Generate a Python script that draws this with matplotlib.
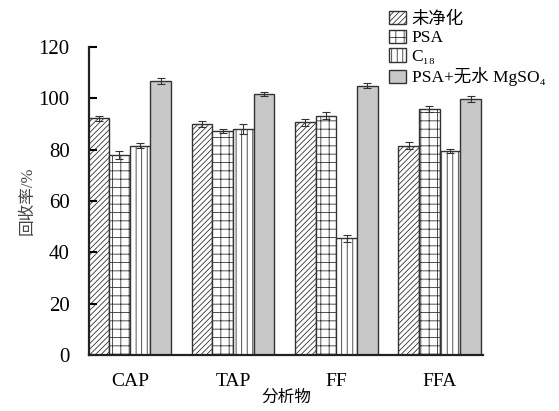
import numpy as np
import matplotlib.pyplot as plt

plt.rcParams['font.family'] = ['Liberation Serif', 'Noto Sans CJK SC', 'DejaVu Sans']
plt.rcParams['hatch.linewidth'] = 0.6

analytes = ['CAP', 'TAP', 'FF', 'FFA']
methods = ['未净化', 'PSA', 'C\u2081\u2088', 'PSA+无水 MgSO\u2084']

raw = [92.3, 90.0, 90.6, 81.6]
psa = [78.0, 87.2, 93.3, 95.8]
c18 = [81.6, 88.0, 45.5, 79.5]
psa_mgso4 = [106.9, 101.8, 105.0, 99.8]

raw_err = [1.0, 1.3, 1.2, 1.5]
psa_err = [1.5, 0.7, 1.3, 1.1]
c18_err = [1.1, 1.9, 1.3, 0.8]
psa_mgso4_err = [1.2, 0.8, 1.1, 1.3]

values = [raw, psa, c18, psa_mgso4]
errors = [raw_err, psa_err, c18_err, psa_mgso4_err]
hatches = ['//////', '++', '|||', '']
faces = ['white', 'white', 'white', '#c8c8c8']

fig = plt.figure(figsize=(5.59, 4.11), dpi=100)
ax = fig.add_axes([89 / 559, 1 - 355 / 411, 394 / 559, 308 / 411])

x = np.arange(len(analytes))
w = 0.2
for i in range(4):
    ax.bar(x - 0.3 + i * w, values[i], w, yerr=errors[i], color=faces[i],
           edgecolor='#333333', linewidth=1.0, hatch=hatches[i],
           error_kw=dict(ecolor='#333333', elinewidth=0.8, capsize=3, capthick=0.8),
           label=methods[i])

ax.set_xlim(-0.395, 3.42)
ax.set_ylim(0, 120)
ax.set_yticks(np.arange(0, 121, 20))
ax.set_xticks(x)
ax.set_xticklabels(analytes, fontsize=14)
ax.tick_params(axis='x', length=0, pad=13)
ax.tick_params(axis='y', direction='in', length=6, width=1.5, labelsize=15, pad=14)
for s in ['top', 'right']:
    ax.spines[s].set_visible(False)
for s in ['left', 'bottom']:
    ax.spines[s].set_linewidth(1.6)
    ax.spines[s].set_color('#222222')

ax.set_ylabel('回收率/%', fontsize=12, color='#444444', labelpad=2)
ax.set_xlabel('分析物', fontsize=12, labelpad=0)

ax.legend(loc='upper left', bbox_to_anchor=(382 / 559, 1 - 4 / 411),
          bbox_transform=fig.transFigure, frameon=False, fontsize=12.5,
          handlelength=1.0, handleheight=0.8, handletextpad=0.3,
          labelspacing=0.12, borderaxespad=0)

fig.savefig('out.png', dpi=100)
